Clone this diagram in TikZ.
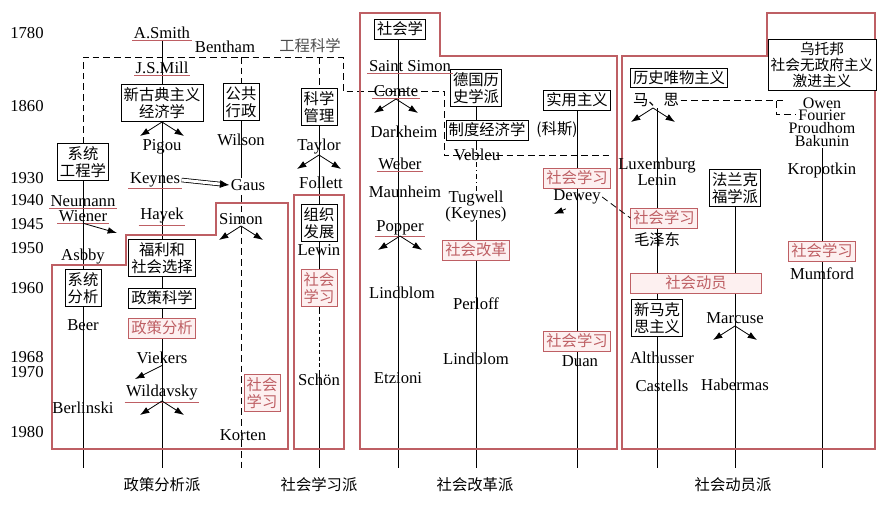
\documentclass[tikz,border=0pt]{standalone}
\usepackage{fontspec}
\setmainfont{Liberation Serif}
\newfontfamily\cjk{Noto Sans CJK SC}
\usetikzlibrary{arrows.meta}
\pgfdeclarelayer{bg}\pgfsetlayers{bg,main}
\definecolor{rl}{RGB}{190,95,100}
\definecolor{rf}{RGB}{253,240,240}
\tikzset{
 t/.style={font=\fontsize{12.5}{12}\selectfont, inner sep=1pt, align=center},
 ct/.style={t, font=\fontsize{11.5}{12}\selectfont\cjk},
 bx/.style={t, draw, font=\fontsize{11.5}{13}\selectfont\cjk, inner sep=2pt, fill=white},
 rbx/.style={bx, draw=rl, text=rl, fill=rf},
 ln/.style={line width=0.6pt},
 dl/.style={ln, dash pattern=on 5pt off 3pt},
 ar/.style={ln, -{Latex[length=7pt,width=5pt]}},
 red/.style={draw=rl, line width=0.8pt},
}
\newcommand\fork[1]{\draw[ar] #1 -- ++(-22,14); \draw[ar] #1 -- ++(22,14);}
\begin{document}
\begin{tikzpicture}[x=0.75pt,y=-0.75pt]
\useasboundingbox (0,0) rectangle (894,512);
% red frames
\draw[red] (52,449)--(52,265)--(126,265)--(126,235)--(216,235)--(216,203)--(288,203)--(288,449)--cycle;
\draw[red] (294,195) rectangle (344,449);
\draw[red] (360,449)--(360,13)--(440,13)--(440,56)--(617,56)--(617,449)--cycle;
\draw[red] (622,449)--(622,56)--(767,56)--(767,13)--(875,13)--(875,449)--cycle;
% years
\foreach \y/\v in {33/1780,106/1860,178/1930,200/1940,224/1945,248/1950,288/1960,357/1968,372/1970,432/1980}
  \node[t] at (27,\y) {\v};
% bottom labels
\node[ct] (b1) at (162,485) {政策分析派};
\node[ct] (b2) at (319,485) {社会学习派};
\node[ct] (b3) at (475,485) {社会改革派};
\node[ct] (b4) at (733,485) {社会动员派};
\foreach \n/\x in {e1/83,e2/162,e3/241,e4/319,e5/398,e6/476,e7/577,e8/657,e9/735,e10/822}
  \coordinate (\n) at (\x,468);
% col1
\node[bx] (syseng) at (83,162) {系统\\工程学};
\node[t] (neumann) at (83,201) {Neumann};
\node[t] (wiener) at (83,216) {Wiener};
\node[t] (asbby) at (83,257) {Asbby};
\node[bx] (sysan) at (83,288) {系统\\分析};
\node[t] (beer) at (83,325) {Beer};
\node[t] (berl) at (83,408) {Berlinski};
% col2
\node[t] (smith) at (162,33) {A.Smith};
\node[t] (bentham) at (225,47) {Bentham};
\node[ct,text=black!70] (gckx) at (310,46) {工程科学};
\node[t] (mill) at (162,68) {J.S.Mill};
\node[bx] (neo) at (162,103) {新古典主义\\经济学};
\node[t] (pigou) at (162,147) {Pigou};
\node[t] (keynes) at (155,180) {Keynes};
\node[t] (hayek) at (162,216) {Hayek};
\node[bx] (fuli) at (162,258) {福利和\\社会选择};
\node[bx] (zckx) at (162,298) {政策科学};
\node[rbx] (zcfx) at (162,328) {政策分析};
\node[t] (viek) at (162,358) {Viekers};
\node[t] (wild) at (162,393) {Wildavsky};
% col3
\node[bx] (ggxz) at (241,102) {公共\\行政};
\node[t] (wilson) at (241,140) {Wilson};
\node[t] (gaus) at (248,185) {Gaus};
\node[t] (simon) at (241,219) {Simon};
\node[rbx] (sl3) at (262,393) {社会\\学习};
\node[t] (korten) at (243,435) {Korten};
% col4
\node[bx] (kxgl) at (319,107) {科学\\管理};
\node[t] (taylor) at (319,147) {Taylor};
\node[t] (follett) at (321,183) {Follett};
\node[bx] (zzfz) at (319,223) {组织\\发展};
\node[t] (lewin) at (319,250) {Lewin};
\node[rbx] (sl4) at (319,288) {社会\\学习};
\node[t] (schon) at (319,380) {Schön};
% col5
\node[bx] (shx) at (400,29) {社会学};
\node[t] (ssimon) at (410,66) {Saint Simon};
\node[t] (comte) at (396,91) {Comte};
\node[t] (dark) at (404,132) {Darkheim};
\node[t] (weber) at (400,164) {Weber};
\node[t] (maun) at (405,192) {Maunheim};
\node[t] (popper) at (400,228) {Popper};
\node[t] (lind1) at (402,293) {Lindblom};
\node[t] (etz) at (398,378) {Etzioni};
% col6
\node[bx] (dgls) at (476,88) {德国历\\史学派};
\node[bx] (zdjj) at (487,130) {制度经济学};
\node[ct] (ks) at (557,130) {(科斯)};
\node[t] (vebleu) at (477,155) {Vebleu};
\node[t] (tug) at (476,207) {Tugwell\\(Keynes)};
\node[rbx] (shgg) at (476,250) {社会改革};
\node[t] (perloff) at (476,304) {Perloff};
\node[t] (lind2) at (476,359) {Lindblom};
% col7
\node[bx] (syzy) at (577,100) {实用主义};
\node[rbx] (sl7a) at (577,178) {社会学习};
\node[t] (dewey) at (577,197) {Dewey};
\node[rbx] (sl7b) at (577,341) {社会学习};
\node[t] (duan) at (580,361) {Duan};
% col8
\node[bx] (lswz) at (679,78) {历史唯物主义};
\node[ct] (ms) at (656,100) {马、思};
\node[t] (lux) at (657,172) {Luxemburg\\Lenin};
\node[rbx] (sl8) at (664,218) {社会学习};
\node[ct] (mao) at (657,240) {毛泽东};
\node[rbx, minimum width=98pt] (shdy) at (696,283) {社会动员};
\node[bx] (xmks) at (657,318) {新马克\\思主义};
\node[t] (alth) at (662,358) {Althusser};
\node[t] (cast) at (662,386) {Castells};
% col10
\node[bx] (flk) at (735,188) {法兰克\\福学派};
\node[t] (marc) at (735,318) {Marcuse};
\node[t] (haber) at (735,385) {Habermas};
\node[bx, font=\fontsize{11}{12}\selectfont\cjk] (wtb) at (822,65) {乌托邦\\社会无政府主义\\激进主义};
\node[t,font=\fontsize{12}{9.6}\selectfont] (owen) at (822,122) {Owen\\Fourier\\Proudhom\\Bakunin};
\node[t] (krop) at (822,170) {Kropotkin};
\node[rbx] (sl10) at (822,251) {社会学习};
\node[t] (mumf) at (822,274) {Mumford};
% underlines
\foreach \n in {smith,mill,keynes,hayek,neumann,wiener,wild,comte,weber,popper,ssimon}
  \draw[rl, line width=0.6pt] (\n.south west) -- (\n.south east);
\begin{pgfonlayer}{bg}
\draw[ln] (syseng.south) -- (e1);
\draw[dl] (syseng.north) -- (83,57) -- (343,57) -- (343,91) -- (444,91) -- (444,155) -- (612,155);
\draw[ln] (smith.south) -- (e2);
\draw[dl] (241,57) -- (ggxz.north);
\draw[ln] (ggxz.south) -- (gaus.north -| ggxz.south);
\draw[dl] (241,195) -- (e3);
\draw[dl] (319,57) -- (kxgl.north);
\draw[ln] (kxgl.south) -- (sl4.north);
\draw[ln] (sl4.south) -- (319,310);
\draw[dl, dash pattern=on 3pt off 2pt] (319,310) -- (319,370);
\draw[ln] (319,370) -- (e4);
\draw[ln] (shx.south -| e5) -- (e5);
\draw[ln] (dgls.south) -- (dgls.south |- zdjj.north);
\draw[ln] (476,138) -- (476,150);
\draw[ln, dash pattern=on 4pt off 2pt on 1pt off 2pt] (476,162) -- (476,193);
\draw[ln] (476,220) -- (e6);
\draw[ln] (syzy.south) -- (e7);
\draw[ln] (ms.south -| e8) -- (e8);
\draw[ln] (flk.south) -- (e9);
\draw[ln] (owen.south) -- (e10);
\end{pgfonlayer}
\draw[dl] (dewey.east) -- (sl8.west);
\draw[dl] (ms.east) -- (owen.north west |- ms.east);
\draw[dl] (776,101) -- (776,114) -- (796,114);
\fork{(162,122)}
\fork{(396,99)}
\fork{(319,155)}
\fork{(241,226)}
\fork{(400,236)}
\fork{(162,401)}
\fork{(653,108)}
\fork{(735,326)}
\draw[ar] (wiener.south) -- (117,233);
\draw[ar] (viek.south) -- (135,379);
\draw[ar] (dewey.south west) ++(14,3) -- (554,214);
\draw[-{Latex[length=7pt,width=6pt]}, double, double distance=2.2pt, line width=0.6pt] (keynes.east) -- (gaus.west);
\end{tikzpicture}
\end{document}
